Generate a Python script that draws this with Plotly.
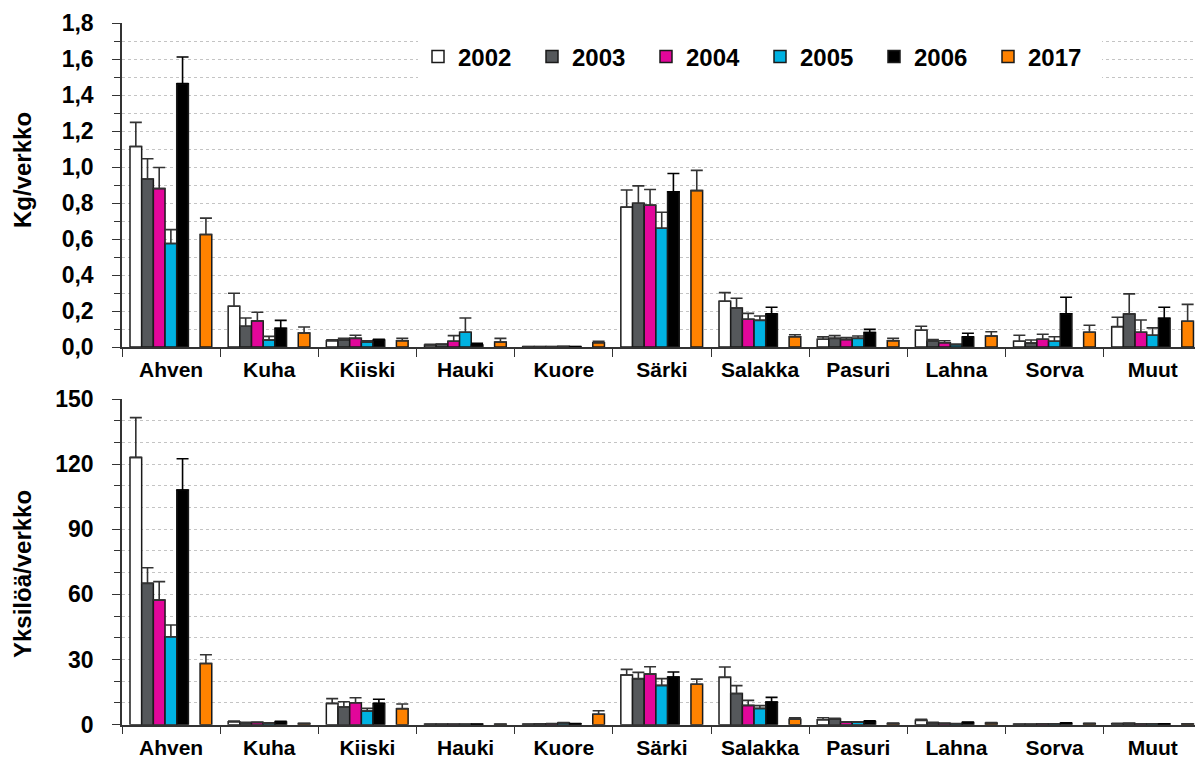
import plotly.graph_objects as go

categories = ["Ahven", "Kuha", "Kiiski", "Hauki", "Kuore", "Särki", "Salakka",
              "Pasuri", "Lahna", "Sorva", "Muut"]
years = ["2002", "2003", "2004", "2005", "2006", "2017"]

# Kg/verkko (biomass per net)
kg_2002 = [1.114, 0.226, 0.035, 0.011, 0.002, 0.777, 0.254, 0.043, 0.093, 0.032, 0.113]
kg_2003 = [0.933, 0.115, 0.039, 0.015, 0.002, 0.799, 0.217, 0.048, 0.032, 0.022, 0.184]
kg_2004 = [0.880, 0.145, 0.048, 0.032, 0.002, 0.788, 0.154, 0.041, 0.024, 0.043, 0.082]
kg_2005 = [0.575, 0.039, 0.028, 0.082, 0.003, 0.660, 0.148, 0.048, 0.013, 0.032, 0.065]
kg_2006 = [1.463, 0.104, 0.039, 0.011, 0.002, 0.862, 0.184, 0.080, 0.056, 0.185, 0.160]
kg_2017 = [0.625, 0.078, 0.035, 0.028, 0.024, 0.869, 0.057, 0.035, 0.061, 0.082, 0.143]

kg_err_2002 = [0.134, 0.073, 0.005, 0.004, 0.001, 0.095, 0.048, 0.013, 0.022, 0.033, 0.052]
kg_err_2003 = [0.113, 0.046, 0.009, 0.002, 0.001, 0.096, 0.054, 0.015, 0.009, 0.017, 0.111]
kg_err_2004 = [0.117, 0.048, 0.017, 0.031, 0.001, 0.087, 0.033, 0.011, 0.011, 0.028, 0.068]
kg_err_2005 = [0.077, 0.020, 0.007, 0.079, 0.001, 0.089, 0.024, 0.013, 0.004, 0.025, 0.041]
kg_err_2006 = [0.148, 0.044, 0.004, 0.009, 0.001, 0.102, 0.037, 0.018, 0.020, 0.091, 0.061]
kg_err_2017 = [0.091, 0.033, 0.013, 0.020, 0.008, 0.112, 0.011, 0.013, 0.024, 0.039, 0.094]

# Yksilöä/verkko (individuals per net)
n_2002 = [123.1, 1.4, 9.8, 0.2, 0.2, 22.9, 21.8, 2.3, 2.0, 0.2, 0.4]
n_2003 = [65.1, 0.9, 8.1, 0.2, 0.3, 21.2, 14.4, 2.6, 0.9, 0.2, 0.6]
n_2004 = [57.4, 1.0, 10.1, 0.2, 0.4, 23.3, 8.9, 1.1, 0.6, 0.3, 0.3]
n_2005 = [40.5, 0.7, 6.3, 0.2, 0.8, 18.1, 7.5, 1.1, 0.4, 0.3, 0.3]
n_2006 = [108.1, 1.3, 9.8, 0.2, 0.4, 22.0, 10.4, 1.5, 1.0, 0.7, 0.3]
n_2017 = [28.2, 0.6, 7.4, 0.2, 4.8, 18.6, 2.5, 0.6, 0.8, 0.5, 0.3]

n_err_2002 = [18.3, 0.3, 2.2, 0.1, 0.1, 2.6, 4.8, 0.9, 0.5, 0.1, 0.2]
n_err_2003 = [7.2, 0.2, 2.5, 0.1, 0.1, 2.9, 3.6, 0.3, 0.2, 0.1, 0.2]
n_err_2004 = [8.5, 0.2, 2.3, 0.1, 0.1, 3.4, 2.3, 0.2, 0.2, 0.1, 0.1]
n_err_2005 = [5.4, 0.2, 1.2, 0.1, 0.2, 3.1, 1.3, 0.2, 0.1, 0.1, 0.1]
n_err_2006 = [14.4, 0.3, 1.9, 0.1, 0.1, 2.3, 2.2, 0.3, 0.2, 0.2, 0.1]
n_err_2017 = [4.0, 0.1, 2.1, 0.1, 1.6, 2.4, 0.7, 0.2, 0.2, 0.2, 0.1]

kg_vals = [kg_2002, kg_2003, kg_2004, kg_2005, kg_2006, kg_2017]
kg_errs = [kg_err_2002, kg_err_2003, kg_err_2004, kg_err_2005, kg_err_2006, kg_err_2017]
n_vals = [n_2002, n_2003, n_2004, n_2005, n_2006, n_2017]
n_errs = [n_err_2002, n_err_2003, n_err_2004, n_err_2005, n_err_2006, n_err_2017]

colors = ["#FFFFFF", "#55585B", "#E2069A", "#00B2E2", "#000000", "#FF8200"]
err_colors = ["#333333", "#333333", "#333333", "#333333", "#000000", "#333333"]
slots = [0, 1, 2, 3, 4, 6]

BAR_W = 0.119
START = -0.4186
FONT = "Arial, Liberation Sans, sans-serif"

fig = go.Figure()
for i, yr in enumerate(years):
    off = START + slots[i] * BAR_W
    fig.add_trace(go.Bar(
        x=categories, y=kg_vals[i], name=yr, width=BAR_W, offset=off,
        marker=dict(color=colors[i], line=dict(color="#1A1A1A", width=1.5)),
        error_y=dict(type="data", array=kg_errs[i], symmetric=False,
                     arrayminus=[0] * len(categories),
                     color=err_colors[i], thickness=1.6, width=6),
        xaxis="x", yaxis="y", legendgroup=yr, showlegend=True,
    ))
for i, yr in enumerate(years):
    off = START + slots[i] * BAR_W
    fig.add_trace(go.Bar(
        x=categories, y=n_vals[i], name=yr, width=BAR_W, offset=off,
        marker=dict(color=colors[i], line=dict(color="#1A1A1A", width=1.5)),
        error_y=dict(type="data", array=n_errs[i], symmetric=False,
                     arrayminus=[0] * len(categories),
                     color=err_colors[i], thickness=1.6, width=6),
        xaxis="x2", yaxis="y2", legendgroup=yr, showlegend=False,
    ))

W, H = 1195, 760
x0 = 122 / W
grid = dict(showgrid=True, gridcolor="#C4C4C4", griddash="dot", gridwidth=1)

xcommon = dict(
    type="category", range=[-0.5, 10.43], showline=True, linecolor="#333333",
    linewidth=1.5, ticks="outside", tickson="boundaries", ticklen=8,
    tickcolor="#333333", tickwidth=1.3, showgrid=False, automargin=False,
    ticklabelstandoff=3,
    tickfont=dict(family=FONT, size=21, color="#000000", weight="bold"),
    domain=[x0, 1.0],
)
ycommon = dict(
    showline=True, linecolor="#333333", linewidth=1.5, ticks="outside",
    ticklen=8, tickcolor="#333333", tickwidth=1.3, zeroline=False, automargin=False,
    tickfont=dict(family=FONT, size=23, color="#000000", weight="bold"),
    ticklabelstandoff=14,
    **grid,
)

fig.update_layout(
    width=W, height=H,
    margin=dict(l=0, r=0, t=0, b=0, autoexpand=False),
    paper_bgcolor="white", plot_bgcolor="white",
    barmode="overlay",
    separators=", ",
    font=dict(family=FONT, color="#000000"),
    xaxis=dict(anchor="y", **xcommon),
    xaxis2=dict(anchor="y2", **xcommon),
    yaxis=dict(anchor="x", domain=[(H - 347) / H, (H - 23) / H], range=[0, 1.8],
               dtick=0.2, tickformat=".1f",
               minor=dict(dtick=0.1, ticks="outside", ticklen=6, tickcolor="#333333",
                          showgrid=True, gridcolor="#C4C4C4", griddash="dot"),
               **ycommon),
    yaxis2=dict(anchor="x2", domain=[(H - 724.7) / H, (H - 399) / H], range=[0, 150],
                dtick=30,
                minor=dict(dtick=10, ticks="outside", ticklen=6, tickcolor="#333333",
                           showgrid=True, gridcolor="#C4C4C4", griddash="dot"),
                **ycommon),
    legend=dict(
        orientation="h", x=418 / W, xanchor="left", y=1 - 57 / H, yanchor="middle",
        bgcolor="white", borderwidth=0,
        font=dict(family=FONT, size=24, color="#000000", weight="bold"),
        entrywidth=69, entrywidthmode="pixels", itemwidth=30,
        traceorder="normal",
    ),
    annotations=[
        dict(text="Kg/verkko", x=22 / W, y=1 - 170 / H, xref="paper", yref="paper",
             showarrow=False, textangle=-90, xanchor="center", yanchor="middle",
             font=dict(family=FONT, size=24, color="#000000", weight="bold")),
        dict(text="Yksilöä/verkko", x=22 / W, y=1 - 574 / H, xref="paper", yref="paper",
             showarrow=False, textangle=-90, xanchor="center", yanchor="middle",
             font=dict(family=FONT, size=24, color="#000000", weight="bold")),
    ],
)

fig.write_html("out.html", config={"displayModeBar": False},
               post_script="document.body.style.margin='0px';")
